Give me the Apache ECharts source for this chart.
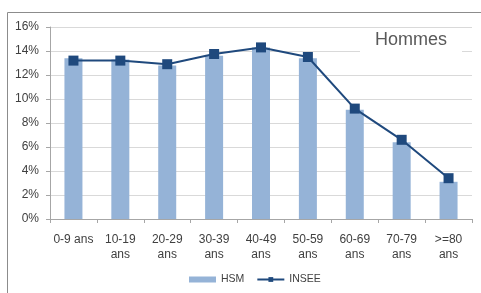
<!DOCTYPE html>
<html>
<head>
<meta charset="utf-8">
<script src="https://cdn.jsdelivr.net/npm/echarts@6/dist/echarts.min.js"></script>
<style>
  html, body { margin: 0; padding: 0; background: #fff; }
  #chart { width: 481px; height: 293px; }
</style>
</head>
<body>
<div id="chart"></div>
<script>
const categories = ['0-9 ans', '10-19\nans', '20-29\nans', '30-39\nans', '40-49\nans', '50-59\nans', '60-69\nans', '70-79\nans', '>=80\nans']
const hsm = [13.4, 13.3, 12.8, 13.6, 14.3, 13.4, 9.1, 6.4, 3.1]
const insee = [13.2, 13.2, 12.9, 13.75, 14.3, 13.5, 9.2, 6.6, 3.4]

const chart = echarts.init(document.getElementById('chart'), null, { renderer: 'canvas' })

const font = '"Liberation Sans", Arial, sans-serif'

chart.setOption({
  animation: false,
  graphic: [
    {
      type: 'polyline',
      shape: { points: [[7.5, 293], [7.5, 12.5], [481, 12.5]] },
      style: { fill: 'none', stroke: '#8c8c8c', lineWidth: 1 },
      silent: true,
    },
  ],
  title: {
    text: 'Hommes',
    left: 360,
    top: 29,
    backgroundColor: '#fff',
    padding: [2, 15, 3, 15],
    textStyle: { color: '#595959', fontSize: 18, fontWeight: 'normal', fontFamily: font },
  },
  legend: {
    bottom: 3,
    left: 184,
    itemGap: 12,
    itemWidth: 27,
    itemHeight: 6,
    textStyle: { color: '#404040', fontSize: 10.5, fontFamily: font },
    data: [
      { name: 'HSM', icon: 'rect' },
      { name: 'INSEE' },
    ],
  },
  grid: { left: 50, right: 9, top: 27, bottom: 74 },
  xAxis: {
    type: 'category',
    data: categories,
    axisLine: { lineStyle: { color: '#a6a6a6' } },
    axisTick: { show: true, length: 4, lineStyle: { color: '#a6a6a6' } },
    axisLabel: { color: '#404040', fontSize: 12, fontFamily: font, interval: 0, lineHeight: 15, margin: 13 },
  },
  yAxis: {
    type: 'value',
    min: 0,
    max: 16,
    interval: 2,
    axisLine: { show: true, lineStyle: { color: '#a6a6a6' } },
    axisTick: { show: true, length: 4, lineStyle: { color: '#a6a6a6' } },
    axisLabel: { color: '#404040', fontSize: 12, fontFamily: font, formatter: '{value}%', margin: 11 },
    splitLine: { lineStyle: { color: '#d9d9d9' } },
  },
  series: [
    {
      name: 'HSM',
      type: 'bar',
      data: hsm,
      barWidth: 18,
      itemStyle: { color: '#95b3d7' },
      z: 1,
    },
    {
      name: 'INSEE',
      type: 'line',
      data: insee,
      symbol: 'rect',
      symbolSize: 10,
      lineStyle: { color: '#1f497d', width: 2 },
      itemStyle: { color: '#1f497d' },
      z: 3,
    },
  ],
})
</script>
</body>
</html>
